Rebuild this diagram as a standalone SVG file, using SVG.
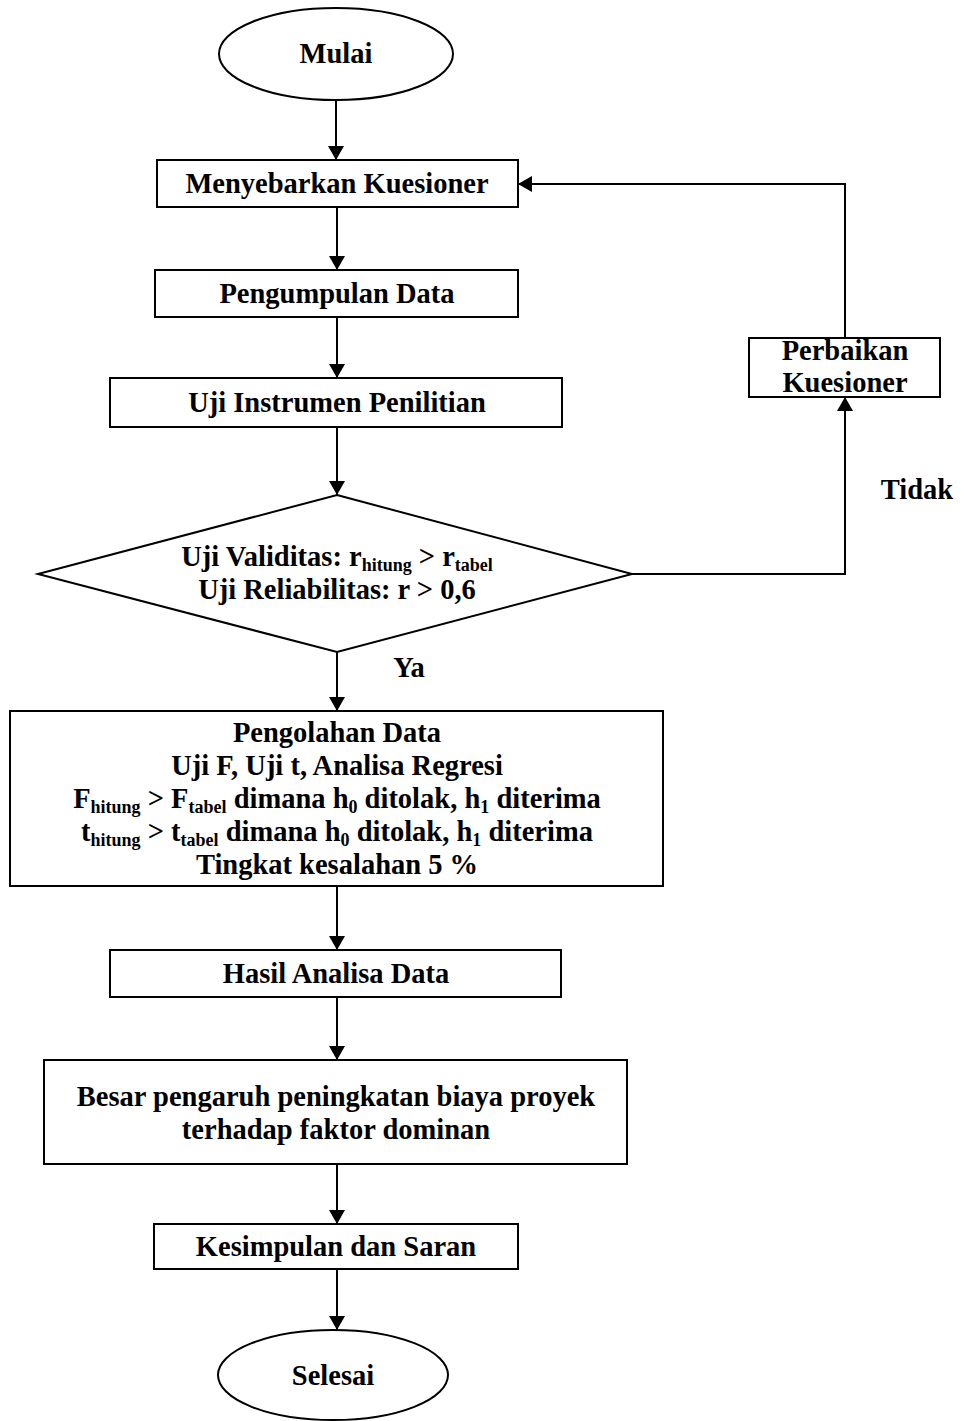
<svg xmlns="http://www.w3.org/2000/svg" width="963" height="1421" viewBox="0 0 963 1421">
<defs>
<style>
.s{fill:#fff;stroke:#000;stroke-width:2}
.t{font-family:"Liberation Serif","Times New Roman",serif;font-size:28.5px;font-weight:bold;fill:#000;text-anchor:middle}
.sub{font-size:18px}
.c{fill:none;stroke:#000;stroke-width:2}
</style>
<marker id="ah" viewBox="0 0 14 16" refX="14" refY="8" markerWidth="14" markerHeight="16" markerUnits="userSpaceOnUse" orient="auto">
<path d="M0,0 L14,8 L0,16 Z" fill="#000"/>
</marker>
</defs>
<rect width="963" height="1421" fill="#fff"/>
<g id="connectors">
<path class="c" d="M336,100 V160" marker-end="url(#ah)"/>
<path class="c" d="M337,207 V270" marker-end="url(#ah)"/>
<path class="c" d="M337,317 V378" marker-end="url(#ah)"/>
<path class="c" d="M337,427 V495" marker-end="url(#ah)"/>
<path class="c" d="M337,652 V711" marker-end="url(#ah)"/>
<path class="c" d="M337,886 V950" marker-end="url(#ah)"/>
<path class="c" d="M337,997 V1060" marker-end="url(#ah)"/>
<path class="c" d="M337,1164 V1224" marker-end="url(#ah)"/>
<path class="c" d="M337,1269 V1330" marker-end="url(#ah)"/>
<path class="c" d="M632,574 H845 V397" marker-end="url(#ah)"/>
<path class="c" d="M845,338 V184 H518" marker-end="url(#ah)"/>
<text class="t" x="917" y="499">Tidak</text>
<text class="t" x="409" y="677">Ya</text>
</g>
<g id="mulai">
<ellipse class="s" cx="336" cy="54" rx="117" ry="46"/>
<text class="t" x="336" y="63">Mulai</text>
</g>
<g id="menyebarkan">
<rect class="s" x="157" y="160" width="361" height="47"/>
<text class="t" x="337" y="193">Menyebarkan Kuesioner</text>
</g>
<g id="pengumpulan">
<rect class="s" x="155" y="270" width="363" height="47"/>
<text class="t" x="337" y="303">Pengumpulan Data</text>
</g>
<g id="uji-instrumen">
<rect class="s" x="110" y="378" width="452" height="49"/>
<text class="t" x="337" y="412">Uji Instrumen Penilitian</text>
</g>
<g id="perbaikan">
<rect class="s" x="749" y="338" width="191" height="59"/>
<text class="t" x="845" y="360">Perbaikan</text>
<text class="t" x="845" y="392">Kuesioner</text>
</g>
<g id="uji-validitas">
<polygon class="s" points="337,495 632,574 337,652 38,574"/>
<text class="t" x="337" y="566">Uji Validitas: r<tspan class="sub" dy="5">hitung</tspan><tspan dy="-5"> &gt; r</tspan><tspan class="sub" dy="5">tabel</tspan></text>
<text class="t" x="337" y="599">Uji Reliabilitas: r &gt; 0,6</text>
</g>
<g id="pengolahan">
<rect class="s" x="10" y="711" width="653" height="175"/>
<text class="t" x="337" y="742">Pengolahan Data</text>
<text class="t" x="337" y="775">Uji F, Uji t, Analisa Regresi</text>
<text class="t" x="337" y="808">F<tspan class="sub" dy="5">hitung</tspan><tspan dy="-5"> &gt; F</tspan><tspan class="sub" dy="5">tabel</tspan><tspan dy="-5"> dimana h</tspan><tspan class="sub" dy="5">0</tspan><tspan dy="-5"> ditolak, h</tspan><tspan class="sub" dy="5">1</tspan><tspan dy="-5"> diterima</tspan></text>
<text class="t" x="337" y="841">t<tspan class="sub" dy="5">hitung</tspan><tspan dy="-5"> &gt; t</tspan><tspan class="sub" dy="5">tabel</tspan><tspan dy="-5"> dimana h</tspan><tspan class="sub" dy="5">0</tspan><tspan dy="-5"> ditolak, h</tspan><tspan class="sub" dy="5">1</tspan><tspan dy="-5"> diterima</tspan></text>
<text class="t" x="337" y="874">Tingkat kesalahan 5 %</text>
</g>
<g id="hasil">
<rect class="s" x="110" y="950" width="451" height="47"/>
<text class="t" x="336" y="983">Hasil Analisa Data</text>
</g>
<g id="besar">
<rect class="s" x="44" y="1060" width="583" height="104"/>
<text class="t" x="336" y="1106">Besar pengaruh peningkatan biaya proyek</text>
<text class="t" x="336" y="1139">terhadap faktor dominan</text>
</g>
<g id="kesimpulan">
<rect class="s" x="154" y="1224" width="364" height="45"/>
<text class="t" x="336" y="1256">Kesimpulan dan Saran</text>
</g>
<g id="selesai">
<ellipse class="s" cx="333" cy="1375" rx="115" ry="45"/>
<text class="t" x="333" y="1385">Selesai</text>
</g>
</svg>
